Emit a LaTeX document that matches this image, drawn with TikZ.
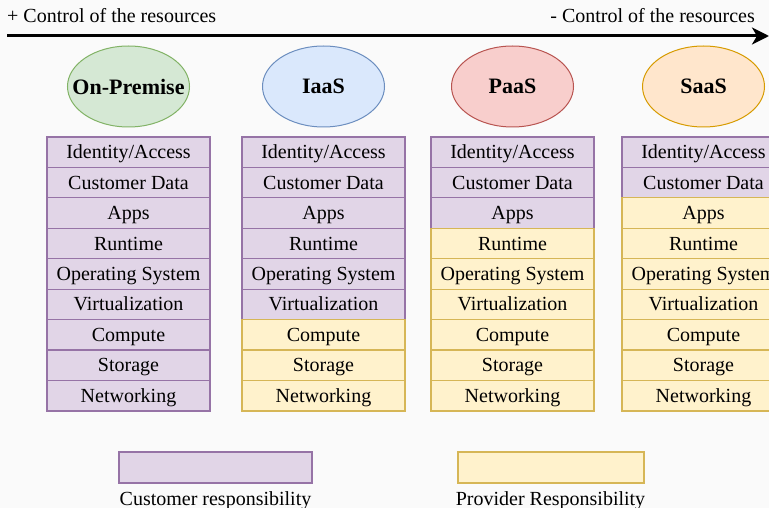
\documentclass[tikz,border=0pt]{standalone}
\usepackage{fontspec}
\setmainfont{Liberation Serif}
\usetikzlibrary{arrows.meta}
\usetikzlibrary{shapes.geometric}

\definecolor{pagebg}{HTML}{FAFAFA}
\definecolor{custfill}{HTML}{E1D5E7}
\definecolor{custline}{HTML}{9673A6}
\definecolor{provfill}{HTML}{FFF2CC}
\definecolor{provline}{HTML}{D6B656}
\definecolor{onpfill}{HTML}{D5E8D4}
\definecolor{onpline}{HTML}{82B366}
\definecolor{iaasfill}{HTML}{DAE8FC}
\definecolor{iaasline}{HTML}{6C8EBF}
\definecolor{paasfill}{HTML}{F8CECC}
\definecolor{paasline}{HTML}{B85450}
\definecolor{saasfill}{HTML}{FFE6CC}
\definecolor{saasline}{HTML}{D79B00}

\tikzset{
  cell/.style={rectangle,draw,line width=1.2pt,outer sep=0pt,inner sep=0pt,
    minimum width=163pt,minimum height=30.44pt,text height=14pt,text depth=1pt,
    font=\rmfamily\fontsize{20}{24}\selectfont},
  cust/.style={cell,fill=custfill,draw=custline},
  prov/.style={cell,fill=provfill,draw=provline},
  model/.style={ellipse,draw,line width=1pt,inner sep=0pt,
    minimum width=122pt,minimum height=81pt},
  modelname/.style={inner sep=0pt,font=\rmfamily\bfseries\fontsize{22}{26}\selectfont},
  plain/.style={inner sep=0pt,font=\rmfamily\fontsize{20}{24}\selectfont},
}

\begin{document}
\begin{tikzpicture}[x=1pt,y=-1pt]
  \fill[pagebg] (0,0) rectangle (769,508);
  \useasboundingbox (0,0) rectangle (769,508);

  % control arrow
  \coordinate (ctrlL) at (7,36);
  \coordinate (ctrlR) at (769,36);
  \draw[line width=3pt,-{Stealth[length=17pt,width=17pt,inset=5pt]}] (ctrlL) -- (ctrlR);
  \node[plain,anchor=base west] (more) at (7,23) {+ Control of the resources};
  \node[plain,anchor=base east] (less) at (755,23) {- Control of the resources};

  % service models
  \node[model,fill=onpfill,draw=onpline,label={[modelname]center:On-Premise}] (onprem) at (128.5,86.5) {};
  \node[model,fill=iaasfill,draw=iaasline,label={[modelname]center:IaaS}] (iaas) at (323.5,86.5) {};
  \node[model,fill=paasfill,draw=paasline,label={[modelname]center:PaaS}] (paas) at (512.5,86.5) {};
  \node[model,fill=saasfill,draw=saasline,label={[modelname]center:SaaS}] (saas) at (703.5,86.5) {};

  % stacks
  \foreach \col/\lft/\own in {op/47/9, ia/242/6, pa/431/3, sa/622/2} {
    \foreach \lab [count=\i] in {{Identity/Access},{Customer Data},Apps,Runtime,
        {Operating System},Virtualization,Compute,Storage,Networking} {
      \ifnum\i>\own \def\kind{prov}\else\def\kind{cust}\fi
      \node[\kind,anchor=north west] (\col\i) at (\lft,{137+(\i-1)*30.44}) {\lab};
    }
  }

  % legend
  \node[cust,anchor=north west,minimum width=193pt,minimum height=31pt] (custkey) at (119,452) {};
  \node[prov,anchor=north west,minimum width=186pt,minimum height=31pt] (provkey) at (458,452) {};
  \node[plain,anchor=base] (custlbl) at (215.5,505) {Customer responsibility};
  \node[plain,anchor=base] (provlbl) at (550.5,505) {Provider Responsibility};
\end{tikzpicture}
\end{document}
